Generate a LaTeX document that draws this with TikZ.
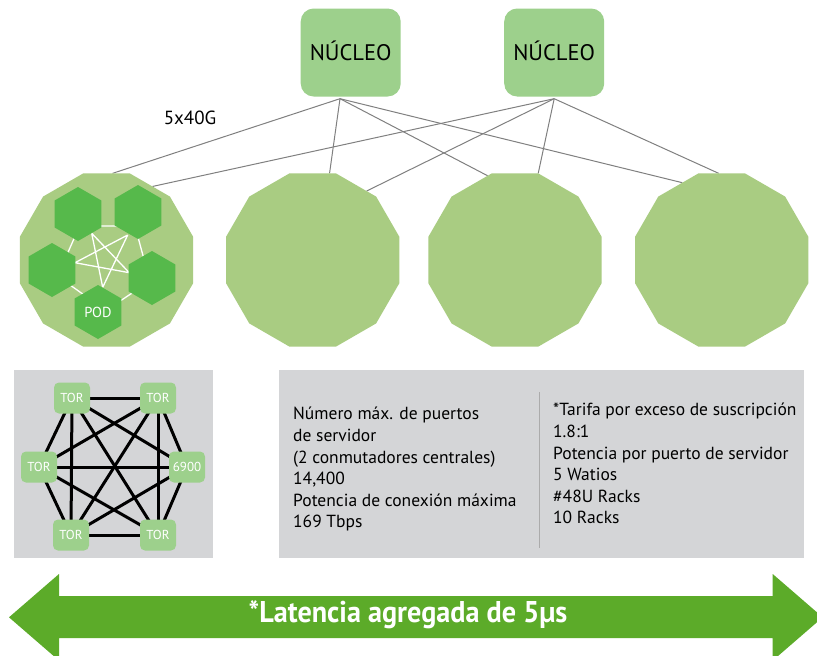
\documentclass[tikz,border=0pt]{standalone}
\usepackage{fontspec}
\setmainfont{PT Sans}
\usepackage{graphicx}
\usetikzlibrary{shapes.geometric,calc}
\pgfdeclarelayer{back}
\pgfdeclarelayer{mid}
\pgfsetlayers{back,mid,main}
\definecolor{corefill}{HTML}{9DD08C}
\definecolor{podfill}{HTML}{A9CC82}
\definecolor{hexfill}{HTML}{56B94B}
\definecolor{panelgray}{HTML}{D4D5D7}
\definecolor{arrowgreen}{HTML}{5CAB29}
\definecolor{linkgray}{HTML}{808080}
\definecolor{sepgray}{HTML}{ABABAB}
\begin{document}
\begin{tikzpicture}[x=1pt,y=-1pt,
 core/.style={fill=corefill, rounded corners=13pt, minimum width=100pt, minimum height=88pt, inner sep=0pt, font=\fontsize{22.5}{27}\selectfont, text=black},
 pod/.style={regular polygon, regular polygon sides=12, fill=podfill, minimum size=179.4pt, inner sep=0pt, outer sep=0pt},
 hex/.style={regular polygon, regular polygon sides=6, shape border rotate=30, fill=hexfill, minimum size=54pt, inner sep=0pt, outer sep=0pt, text=white, font=\fontsize{14.5}{17}\selectfont},
 tor/.style={fill=corefill, rounded corners=5pt, minimum width=36pt, minimum height=31pt, inner sep=0pt, text=white, font=\fontsize{13}{15}\selectfont},
 link/.style={draw=linkgray, line width=1pt},
 mesh/.style={draw=black, line width=3pt},
 podlink/.style={draw=white, line width=1.3pt},
 panel/.style={fill=panelgray, inner sep=0pt, outer sep=0pt},
 info/.style={anchor=north west, inner sep=0pt, align=left, font=\fontsize{17.5}{21.6}\selectfont, text=black}
]
\path[use as bounding box] (0,0) rectangle (817,656);
\begin{pgfonlayer}{back}
\fill[white] (0,0) rectangle (817,656);
\node[panel, minimum width=199pt, minimum height=188pt] (torpanel) at (113.5,464) {};
\node[panel, minimum width=525.3pt, minimum height=188pt] (infopanel) at (541.35,464) {};
\end{pgfonlayer}

% core switches
\node[core] (core1) at (350.7,52.5) {\raisebox{3pt}{NÚCLEO}};
\node[core] (core2) at (554.2,52.5) {\raisebox{3pt}{NÚCLEO}};
\coordinate (c1o) at ([xshift=-10.7pt,yshift=-2pt]core1.south);
\coordinate (c2o) at ([yshift=-2pt]core2.south);

% pods
\node[pod] (pod1) at (106.5,260) {};
\node[pod] (pod2) at (312.7,260) {};
\node[pod] (pod3) at (515,260) {};
\node[pod] (pod4) at (721.7,260) {};

\begin{pgfonlayer}{mid}
\draw[link] (c1o) -- (pod1.86.4);
\draw[link] (c1o) -- (pod2.79.8);
\draw[link] (c1o) -- (pod3.108.4);
\draw[link] (c1o) -- (pod4.117.4);
\draw[link] (c2o) -- (pod1.58.9);
\draw[link] (c2o) -- (pod2.52.1);
\draw[link] (c2o) -- (pod3.75);
\draw[link] (c2o) -- (pod4.92.2);
\end{pgfonlayer}

\node[font=\fontsize{19}{22}\selectfont] (rate) at (190,118) {5x40G};

% inside pod 1
\coordinate (v1) at (79.6,226);
\coordinate (v2) at (135,226);
\coordinate (v4) at (149.9,281.1);
\coordinate (v5) at (106,310.5);
\coordinate (v3) at (57.5,276.1);
\coordinate (s1) at (91.7,233.3);
\coordinate (s2) at (127.7,235);
\coordinate (s3) at (75,262.7);
\coordinate (s4) at (129.3,272.7);
\coordinate (s5) at (102.7,287.3);
\draw[podlink] (v1) -- (v2) -- (v4) -- (v5) -- (v3) -- cycle;
\draw[podlink] (s1) -- (s4) (s1) -- (s5) (s2) -- (s3) (s2) -- (s5) (s3) -- (s4);
\node[hex] (h1) at (78,214) {};
\node[hex] (h2) at (138,212) {};
\node[hex] (h3) at (52,270) {};
\node[hex] (h4) at (152,278) {};
\node[hex] (h5) at (98,312) {POD};

% TOR mesh
\node[tor] (t1) at (72,398) {TOR};
\node[tor] (t2) at (158,398) {TOR};
\node[tor] (t3) at (39,467) {TOR};
\node[tor] (t4) at (187,467) {6900};
\node[tor] (t5) at (71,535) {TOR};
\node[tor] (t6) at (158,535) {TOR};
\begin{pgfonlayer}{mid}
\foreach \a/\b in {t1/t2,t1/t3,t1/t4,t1/t5,t1/t6,t2/t3,t2/t4,t2/t5,t2/t6,t3/t4,t3/t5,t3/t6,t4/t5,t4/t6,t5/t6}
  \draw[mesh] (\a.center) -- (\b.center);
\end{pgfonlayer}

% info text
\node[info] (infoleft) at (293,407) {Número máx. de puertos\\de servidor\\(2 conmutadores centrales)\\14,400\\Potencia de conexión máxima\\169 Tbps};
\node[info] (inforight) at (553,403) {*Tarifa por exceso de suscripción\\1.8:1\\Potencia por puerto de servidor\\5 Watios\\\#48U Racks\\10 Racks};
\coordinate (septop) at (539,392);
\coordinate (sepbot) at (539,548);
\draw[sepgray, line width=1pt] (septop) -- (sepbot);

% latency arrow
\begin{scope}
\clip (0,0) rectangle (817,656);
\fill[arrowgreen] (9,617.3) -- (59,574) -- (59,596) -- (772.7,596) -- (772.7,574) -- (822.7,617.3) -- (772.7,660.6) -- (772.7,638) -- (59,638) -- (59,660.6) -- cycle;
\end{scope}
\node[text=white, font=\fontsize{30}{36}\selectfont\bfseries, inner sep=0pt] (latency) at (408,615) {\scalebox{0.94}[1]{*Latencia agregada de 5µs}};
\end{tikzpicture}
\end{document}
